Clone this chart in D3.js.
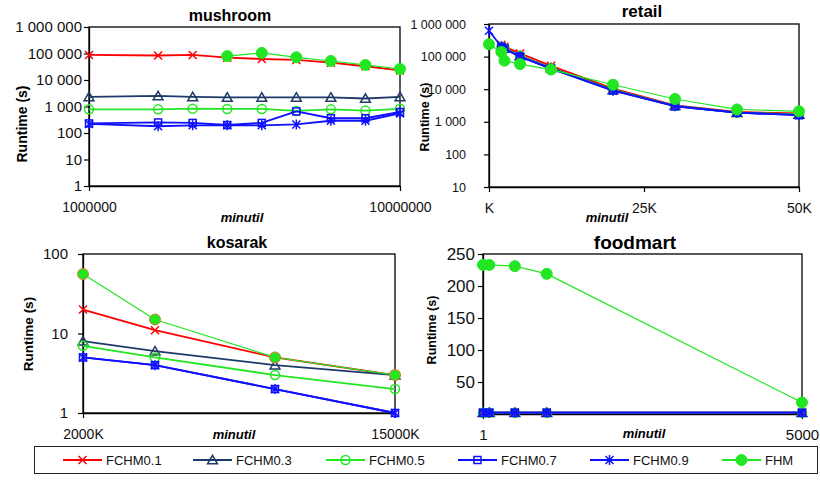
<!DOCTYPE html>
<html>
<head>
<meta charset="utf-8">
<script src="https://cdn.jsdelivr.net/npm/d3@7"></script>
<style>
  body { margin: 0; background: #fff; }
  svg { display: block; font-family: "Liberation Sans", Arial, sans-serif; }
</style>
</head>
<body>
<svg id="chart" width="820" height="481"></svg>
<script>
// series names (legend order)
var seriesNames = ['FCHM0.1', 'FCHM0.3', 'FCHM0.5', 'FCHM0.7', 'FCHM0.9', 'FHM'];

// mushroom
var mushroomX = [1000000, 3000000, 4000000, 5000000, 6000000, 7000000, 8000000, 9000000, 10000000];
var mushroomF01 = [88000, 84000, 88000, 70000, 62000, 57000, 45000, 33000, 23000];
var mushroomF03 = [2300, 2500, 2300, 2200, 2200, 2200, 2200, 2000, 2300];
var mushroomF05 = [780, 780, 830, 810, 810, 680, 780, 700, 820];
var mushroomF07 = [230, 250, 240, 200, 240, 650, 360, 360, 620];
var mushroomF09 = [220, 180, 195, 195, 195, 210, 290, 290, 550];
var mushroomFHM = [null, null, null, 80000, 105000, 72000, 52000, 37000, 26000];
var mushroomXTicks = [1000000, 10000000];
var mushroomXLabels = ['1000000', '10000000'];

// retail
var retailX = [0, 2000, 2500, 5000, 10000, 20000, 30000, 40000, 50000];
var retailF01 = [null, 230000, 200000, 125000, 52000, 10500, 3200, 2000, 1800];
var retailF03 = [null, 200000, 180000, 105000, 45000, 9500, 3100, 1900, 1700];
var retailF05 = [null, 200000, 180000, 105000, 44000, 9500, 3100, 1900, 1700];
var retailF07 = [null, 200000, 175000, 100000, 43000, 9200, 3000, 1900, 1600];
var retailF09 = [620000, 200000, 175000, 100000, 43000, 9000, 3000, 1900, 1600];
var retailFHM = [240000, 138000, 75000, 59000, 40000, 13700, 5000, 2400, 2100];
var retailXTicks = [0, 25000, 50000];
var retailXLabels = ['K', '25K', '50K'];

// kosarak
var kosarakX = [2000, 5000, 10000, 15000];
var kosarakF01 = [20, 11, 5, 3];
var kosarakF03 = [8, 6, 4, 3];
var kosarakF05 = [7, 5, 3, 2];
var kosarakF07 = [5, 4, 2, 1];
var kosarakF09 = [5, 4, 2, 1];
var kosarakFHM = [56, 15, 5, 3];
var kosarakXTicks = [2000, 15000];
var kosarakXLabels = ['2000K', '15000K'];

// foodmart
var foodmartX = [1, 100, 500, 1000, 5000];
var foodmartF01 = [2, 2, 2, 2, 2];
var foodmartF03 = [2, 2, 2, 2, 2];
var foodmartF05 = [2, 2, 2, 2, 2];
var foodmartF07 = [2, 2, 2, 2, 2];
var foodmartF09 = [2, 2, 2, 2, 2];
var foodmartFHM = [233, 233, 231, 219, 18];
var foodmartXTicks = [1, 5000];
var foodmartXLabels = ['1', '5000'];
var foodmartYTicks = [50, 100, 150, 200, 250];

// styles
var seriesColors = ['#ff0000', '#1f3a68', '#22e622', '#1010ff', '#1010ff', '#22e622'];
var seriesMarkers = ['x', 'tri', 'circle', 'square', 'star', 'dot'];
var seriesWidths = [1.8, 1.8, 1.8, 1.8, 1.8, 1.2];

var fmtSpace = d3.formatLocale({decimal: '.', thousands: ' ', grouping: [3], currency: ['', '']}).format(',');

var panels = [
  {title: 'mushroom', x: mushroomX, ys: [mushroomF01, mushroomF03, mushroomF05, mushroomF07, mushroomF09, mushroomFHM],
   xTicks: mushroomXTicks, xLabels: mushroomXLabels, log: true, yDomain: [1, 1000000],
   box: [89, 27, 400, 186], titlePos: [230, 21, 16], yTitle: [22, 124, 14], xTitle: [242, 222, 13],
   yFont: 15, yPad: 2, xFont: 14, xBase: 212},
  {title: 'retail', x: retailX, ys: [retailF01, retailF03, retailF05, retailF07, retailF09, retailFHM],
   xTicks: retailXTicks, xLabels: retailXLabels, log: true, yDomain: [10, 1000000],
   box: [489, 24, 799, 187], titlePos: [642, 17, 17], yTitle: [425, 117, 12.5], xTitle: [607, 222, 13],
   yFont: 12.5, yPad: 18, xFont: 14, xBase: 213},
  {title: 'kosarak', x: kosarakX, ys: [kosarakF01, kosarakF03, kosarakF05, kosarakF07, kosarakF09, kosarakFHM],
   xTicks: kosarakXTicks, xLabels: kosarakXLabels, log: true, yDomain: [1, 100],
   box: [83, 254, 395, 413], titlePos: [237, 248, 16], yTitle: [28, 334, 13.5], xTitle: [234, 439, 13],
   yFont: 15, yPad: 10, xFont: 14, xBase: 439, fhmStroke: '#e07a2a'},
  {title: 'foodmart', x: foodmartX, ys: [foodmartF01, foodmartF03, foodmartF05, foodmartF07, foodmartF09, foodmartFHM],
   xTicks: foodmartXTicks, xLabels: foodmartXLabels, log: false, yDomain: [0, 250], yTicks: foodmartYTicks,
   box: [483, 254, 802, 414], titlePos: [635, 249, 19], yTitle: [432, 330, 12.5], xTitle: [644, 438, 13],
   yFont: 17, yPad: 3, xFont: 15, xBase: 440}
];

var svg = d3.select('#chart');
svg.append('rect').attr('width', 820).attr('height', 481).attr('fill', '#fff');

// draw a marker at (0,0)
function drawMarker(g, type, color, stroke) {
  if (type == 'x') {
    g.append('path').attr('d', 'M-4,-4L4,4M-4,4L4,-4').attr('stroke', color).attr('stroke-width', 1.5).attr('fill', 'none');
  } else if (type == 'star') {
    g.append('path').attr('d', 'M-4,-4L4,4M-4,4L4,-4M0,-5L0,5').attr('stroke', color).attr('stroke-width', 1.5).attr('fill', 'none');
  } else if (type == 'tri') {
    g.append('path').attr('d', d3.symbol(d3.symbolTriangle, 42)()).attr('transform', 'translate(0,1)')
      .attr('stroke', color).attr('stroke-width', 1.5).attr('fill', 'none');
  } else if (type == 'square') {
    g.append('rect').attr('x', -3.5).attr('y', -3.5).attr('width', 7).attr('height', 7)
      .attr('stroke', color).attr('stroke-width', 1.5).attr('fill', 'none');
  } else if (type == 'circle') {
    g.append('circle').attr('r', 4.5).attr('stroke', color).attr('stroke-width', 1.5).attr('fill', 'none');
  } else if (type == 'dot') {
    g.append('circle').attr('r', 5.5).attr('fill', color)
      .attr('stroke', stroke || color).attr('stroke-width', 1);
  }
}

function drawPanel(p) {
  var b = p.box;
  var x = d3.scaleLinear().domain([p.x[0], p.x[p.x.length - 1]]).range([b[0], b[2]]);
  if (p.title == 'retail') x.domain([0, 50000]);
  var y = p.log ? d3.scaleLog().domain(p.yDomain).range([b[3], b[1]])
                : d3.scaleLinear().domain(p.yDomain).range([b[3], b[1]]);
  var g = svg.append('g');

  // plot box
  g.append('rect').attr('x', b[0]).attr('y', b[1]).attr('width', b[2] - b[0]).attr('height', b[3] - b[1])
    .attr('fill', 'none').attr('stroke', '#000').attr('stroke-width', 1.3);

  // y axis
  var yTicks = p.yTicks;
  if (!yTicks) {
    yTicks = [];
    for (var v = p.yDomain[0]; v <= p.yDomain[1]; v *= 10) yTicks.push(v);
  }
  var ya = g.append('g').attr('transform', 'translate(' + b[0] + ',0)')
    .call(d3.axisLeft(y).tickValues(yTicks).tickFormat(fmtSpace).tickSize(5).tickPadding(p.yPad).tickSizeOuter(0));
  ya.select('.domain').attr('stroke', '#000').attr('stroke-width', 1.3);
  ya.selectAll('.tick line').attr('stroke', '#000').attr('stroke-width', 1.2);
  ya.selectAll('text').attr('font-size', p.yFont).attr('fill', '#111').attr('font-family', '"Liberation Sans", Arial, sans-serif');

  // x axis
  var xa = g.append('g').attr('transform', 'translate(0,' + b[3] + ')')
    .call(d3.axisBottom(x).tickValues(p.xTicks).tickFormat(function(d, i) { return p.xLabels[i]; }).tickSize(5).tickSizeOuter(0));
  xa.select('.domain').attr('stroke', '#000').attr('stroke-width', 1.3);
  xa.selectAll('.tick line').attr('stroke', '#000').attr('stroke-width', 1.2);
  xa.selectAll('text').attr('font-size', p.xFont).attr('fill', '#111').attr('dy', null)
    .attr('y', p.xBase - b[3]).attr('font-family', '"Liberation Sans", Arial, sans-serif');

  // titles
  g.append('text').attr('x', p.titlePos[0]).attr('y', p.titlePos[1]).attr('text-anchor', 'middle')
    .attr('font-weight', 'bold').attr('font-size', p.titlePos[2]).text(p.title);
  g.append('text').attr('transform', 'translate(' + p.yTitle[0] + ',' + p.yTitle[1] + ') rotate(-90)')
    .attr('text-anchor', 'middle').attr('dy', '0.35em').attr('font-weight', 'bold').attr('font-size', p.yTitle[2])
    .text('Runtime (s)');
  g.append('text').attr('x', p.xTitle[0]).attr('y', p.xTitle[1]).attr('text-anchor', 'middle')
    .attr('font-weight', 'bold').attr('font-style', 'italic').attr('font-size', p.xTitle[2]).text('minutil');

  // series
  p.ys.forEach(function(vals, si) {
    var pts = p.x.map(function(xv, i) { return {x: xv, y: vals[i]}; });
    var line = d3.line().defined(function(d) { return d.y != null; })
      .x(function(d) { return x(d.x); }).y(function(d) { return y(d.y); });
    g.append('path').datum(pts).attr('d', line).attr('fill', 'none')
      .attr('stroke', seriesColors[si]).attr('stroke-width', seriesWidths[si]).attr('stroke-linejoin', 'round');
    pts.filter(function(d) { return d.y != null; }).forEach(function(d) {
      var mg = g.append('g').attr('transform', 'translate(' + x(d.x) + ',' + y(d.y) + ')');
      drawMarker(mg, seriesMarkers[si], seriesColors[si], si == 5 ? p.fhmStroke : null);
    });
  });
}

panels.forEach(drawPanel);

// legend
var legend = svg.append('g');
legend.append('rect').attr('x', 34.5).attr('y', 446.5).attr('width', 783).attr('height', 27)
  .attr('fill', '#fff').attr('stroke', '#222').attr('stroke-width', 1);
var legendStarts = [63, 193, 326, 458, 590, 722];
seriesNames.forEach(function(name, i) {
  var lx = legendStarts[i], ly = 460;
  legend.append('line').attr('x1', lx).attr('x2', lx + 39).attr('y1', ly).attr('y2', ly)
    .attr('stroke', seriesColors[i]).attr('stroke-width', 1.8);
  var mg = legend.append('g').attr('transform', 'translate(' + (lx + 19.5) + ',' + ly + ')');
  drawMarker(mg, seriesMarkers[i], seriesColors[i]);
  legend.append('text').attr('x', lx + 43).attr('y', ly).attr('dy', '0.35em')
    .attr('font-size', 13).attr('fill', '#111').text(name);
});
</script>
</body>
</html>
